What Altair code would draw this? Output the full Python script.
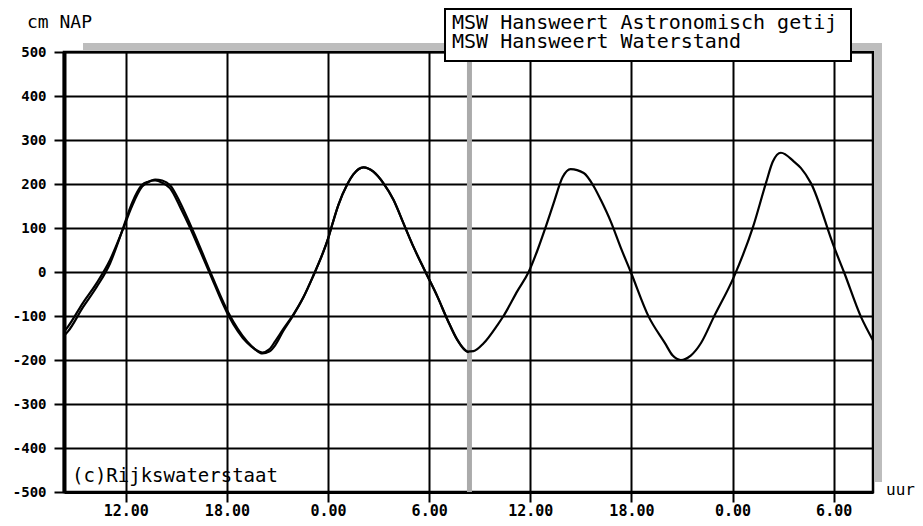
import altair as alt
import pandas as pd

# ---- data (hours since midnight of day 1, cm NAP) ----
hours = [8.33, 8.57, 9.46, 10.29, 11.07, 11.84, 12.37, 12.97, 13.32, 13.74, 14.16, 14.63,
         15.22, 15.82, 16.41, 16.95, 18.08, 19.20, 19.68, 20.10, 20.51, 20.87, 21.34,
         21.94, 22.53, 23.13, 23.66, 24.02, 24.25, 24.61, 25.15, 25.50, 26.10, 26.69,
         27.28, 27.88, 28.47, 29.07, 29.78, 30.49, 31.09, 31.68, 32.27, 32.63, 33.23,
         34.06, 34.41, 35.24, 35.90, 36.43, 36.91, 37.38, 37.92, 38.39, 39.17, 39.76,
         40.18, 40.77, 41.36, 41.96, 43.03, 43.98, 44.45, 44.93, 45.52, 46.12, 46.89,
         48.08, 49.21, 49.98, 50.39, 50.87, 51.64, 52.06, 52.65, 54.02, 54.61, 55.62,
         56.33]
astro = [-145, -135, -80, -33, 20, 100, 157, 198, 205, 208, 203, 190,
         148, 100, 48, 0, -98, -161, -176, -183, -176, -157, -130,
         -97, -58, -8, 40, 78, 108, 152, 200, 222, 238, 228,
         202, 164, 111, 57, 0, -56, -109, -155, -181, -180, -162,
         -120, -100, -43, 0, 50, 102, 156, 216, 234, 225, 195,
         164, 115, 56, 0, -102, -161, -190, -200, -190, -162, -102,
         -11, 102, 202, 251, 271, 251, 236, 202, 57, 0, -102,
         -155]

meas_hours = [8.33, 8.57, 9.46, 10.29, 11.07, 11.84, 12.37, 12.97, 13.32, 13.74, 14.16,
              14.63, 15.22, 15.82, 16.41, 16.95, 18.08, 19.20, 19.68, 20.10, 20.51,
              20.87, 21.34, 21.94, 22.53, 23.13, 23.66, 24.02, 24.25, 24.61, 25.15,
              25.50, 26.10, 26.69, 27.28, 27.88, 28.47, 29.07, 29.78, 30.49, 31.09,
              31.68, 32.27, 32.35]
measured = [-136, -124, -70, -24, 28, 98, 150, 194, 204, 210, 208,
            197, 158, 108, 56, 6, -92, -158, -176, -185, -181,
            -166, -134, -98, -58, -8, 40, 78, 108, 152, 200,
            222, 238, 228, 202, 164, 111, 57, 0, -56, -109,
            -155, -181, -182]

now_hour = [32.39]
x_ticks = [12, 18, 24, 30, 36, 42, 48, 54]
y_ticks = list(range(-500, 501, 100))
legend_labels = ["MSW Hansweert Astronomisch getij", "MSW Hansweert Waterstand"]
y_title = "cm NAP"
x_title = "uur"
credit = "(c)Rijkswaterstaat"

MONO = "DejaVu Sans Mono"

df_astro = pd.DataFrame({"t": hours, "v": astro, "serie": legend_labels[0]})
df_meas = pd.DataFrame({"t": meas_hours, "v": measured, "serie": legend_labels[1]})
df_now = pd.DataFrame({"t": now_hour})
one = pd.DataFrame({"a": [0]})

xscale = alt.Scale(domain=[8.333, 56.333], nice=False, zero=False)
yscale = alt.Scale(domain=[-500, 500], nice=False, zero=False)

xaxis = alt.Axis(values=x_ticks, labelExpr="(datum.value % 24) + '.00'", title=None,
                 grid=True, gridColor="black", gridWidth=2, gridOpacity=1,
                 tickColor="black", tickSize=10, tickWidth=2,
                 domainColor="black", domainWidth=3,
                 labelFont=MONO, labelFontWeight="bold", labelFontSize=15,
                 labelColor="black", labelPadding=1)
yaxis = alt.Axis(values=y_ticks, labelExpr="'' + datum.value", title=None,
                 grid=True, gridColor="black", gridWidth=2, gridOpacity=1,
                 tickColor="black", tickSize=10, tickWidth=2,
                 domainColor="black", domainWidth=4,
                 labelFont=MONO, labelFontWeight="bold", labelFontSize=14,
                 labelColor="black", labelPadding=8)

shadow_col = "#bdbdbd"
shadow_top = alt.Chart(one).mark_rect(color=shadow_col).encode(
    x=alt.value(19), x2=alt.value(818), y=alt.value(-9), y2=alt.value(-1.5))
shadow_right = alt.Chart(one).mark_rect(color=shadow_col).encode(
    x=alt.value(810.5), x2=alt.value(818), y=alt.value(-9), y2=alt.value(430))

now_rule = alt.Chart(df_now).mark_rule(color="#ababab", strokeWidth=5).encode(
    x=alt.X("t:Q", scale=xscale, axis=xaxis))

line_astro = alt.Chart(df_astro).mark_line(color="black", strokeWidth=2.2,
                                           interpolate="monotone").encode(
    x=alt.X("t:Q", scale=xscale, axis=xaxis),
    y=alt.Y("v:Q", scale=yscale, axis=yaxis))
line_meas = alt.Chart(df_meas).mark_line(color="black", strokeWidth=2.2,
                                         interpolate="monotone").encode(
    x=alt.X("t:Q", scale=xscale, axis=xaxis),
    y=alt.Y("v:Q", scale=yscale, axis=yaxis))

legend_box = alt.Chart(one).mark_rect(fill="white", stroke="black", strokeWidth=2).encode(
    x=alt.value(381), x2=alt.value(787), y=alt.value(-43), y2=alt.value(9))
leg1 = alt.Chart(one).mark_text(text=legend_labels[0], align="left", baseline="alphabetic",
                                font=MONO, fontSize=20, color="black").encode(
    x=alt.value(388), y=alt.value(-23))
leg2 = alt.Chart(one).mark_text(text=legend_labels[1], align="left", baseline="alphabetic",
                                font=MONO, fontSize=20, color="black").encode(
    x=alt.value(388), y=alt.value(-4))

ytitle = alt.Chart(one).mark_text(text=y_title, align="left", baseline="alphabetic",
                                  font=MONO, fontSize=18, color="black").encode(
    x=alt.value(-37), y=alt.value(-24))
xtitle = alt.Chart(one).mark_text(text=x_title, align="left", baseline="alphabetic",
                                  font=MONO, fontSize=16, color="black").encode(
    x=alt.value(822), y=alt.value(443))
credit_txt = alt.Chart(one).mark_text(text=credit, align="left", baseline="alphabetic",
                                      font=MONO, fontSize=19, color="black").encode(
    x=alt.value(8), y=alt.value(430))

chart = alt.layer(
    shadow_top, shadow_right, now_rule, line_astro, line_meas,
    legend_box, leg1, leg2, ytitle, xtitle, credit_txt
).properties(
    width=809, height=440,
    autosize=alt.AutoSizeParams(type="none"),
    padding={"left": 56, "top": 44, "right": 42, "bottom": 26},
    background="white",
).configure_view(stroke="black", strokeWidth=2.5, fill="white")

chart.save("out.html", embed_options={"renderer": "svg", "actions": False})
